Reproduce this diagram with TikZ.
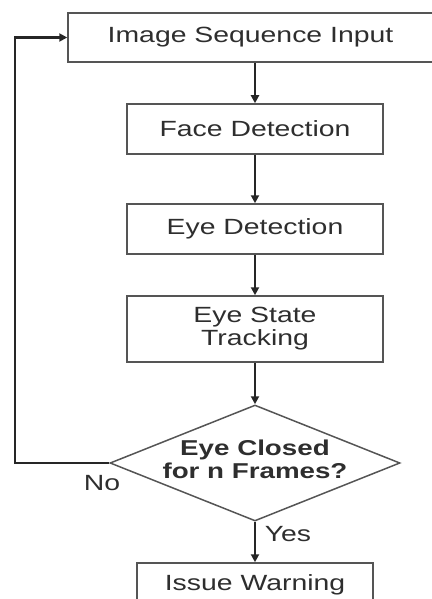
\documentclass[tikz,border=0pt]{standalone}
\usepackage{fontspec}
\setmainfont[FakeStretch=1.29]{Liberation Sans}
\usetikzlibrary{shapes.geometric,arrows.meta}
\definecolor{txt}{HTML}{2E2E2E}
\definecolor{edge}{HTML}{555555}
\tikzset{
  stepbox/.style={draw=edge, line width=1.5pt, text=txt, inner sep=0pt,
    font=\fontsize{22}{23}\selectfont, align=center},
  decbox/.style={shape=diamond, draw=edge, line width=1.5pt, inner sep=0pt,
    minimum width=290pt, minimum height=116pt},
  dectext/.style={text=txt, font=\bfseries\fontsize{21.5}{23}\selectfont, align=center, inner sep=0pt},
  lbl/.style={text=txt, font=\fontsize{22}{22}\selectfont, inner sep=0pt},
  flow/.style={draw=black!85, line width=2.4pt, -{Triangle[length=8pt,width=8pt]}}
}
\begin{document}
\begin{tikzpicture}[x=1pt,y=-1pt]
\useasboundingbox (0,0) rectangle (431,599);
\node[stepbox, minimum width=365pt, minimum height=49pt] (inp) at (250.5,37.5) {Image Sequence Input};
\node[stepbox, minimum width=256pt, minimum height=50pt] (face) at (255,129) {Face Detection};
\node[stepbox, minimum width=256pt, minimum height=50pt] (eye) at (255,229) {Eye Detection};
\node[stepbox, minimum width=256pt, minimum height=66pt] (track) at (255,329) {Eye State\\Tracking};
\node[decbox] (dec) at (255,463) {};
\node[dectext] (dect) at (255,459) {Eye Closed\\for n Frames?};
\node[stepbox, minimum width=236pt, minimum height=44pt] (warn) at (255,585) {Issue Warning};
\coordinate (fb) at (15,463);
\draw[flow] (face.north |- inp.south) -- (face.north);
\draw[flow] (face.south) -- (eye.north);
\draw[flow] (eye.south) -- (track.north);
\draw[flow] (track.south) -- (dec.north);
\draw[flow] (dec.south) -- (warn.north);
\draw[flow] (dec.west) -- (fb) |- (inp.west);
\node[lbl] (yes) at (288,534) {Yes};
\node[lbl] (no) at (102,483) {No};
\end{tikzpicture}
\end{document}
